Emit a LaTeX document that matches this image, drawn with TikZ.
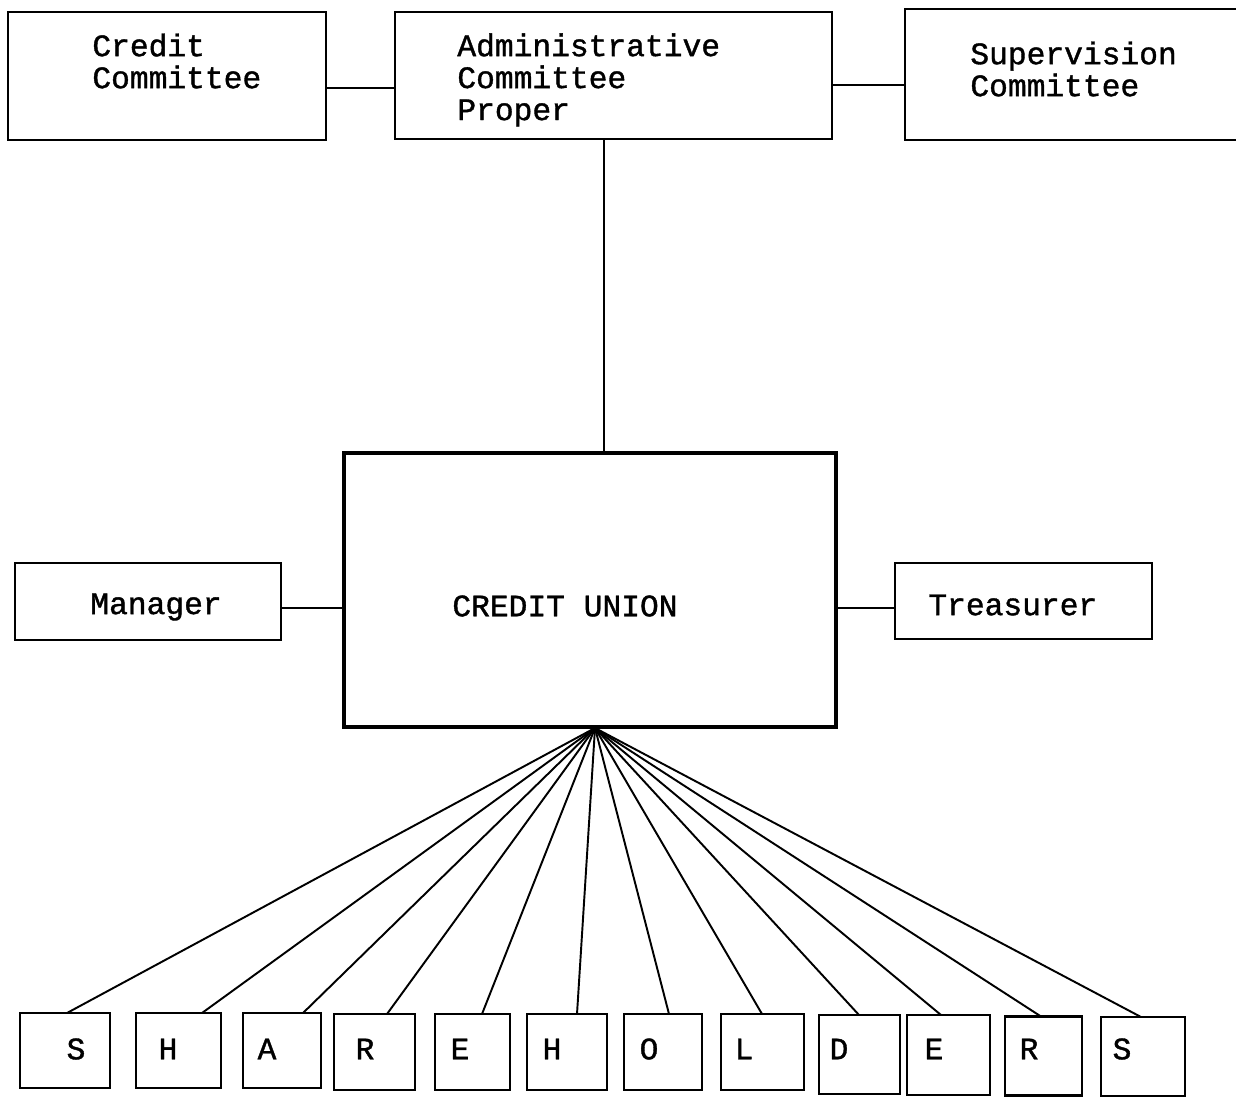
\documentclass[tikz,border=0pt]{standalone}
\usepackage{fontspec}
\setmonofont[FakeBold=1.2]{Liberation Mono}
\tikzset{
    box/.style = {draw, line width=1.5pt, inner sep=0pt, outer sep=0pt},
    bigbox/.style = {box, line width=2.6pt},
    typed/.style = {font=\ttfamily\fontsize{17.8}{18.2}\selectfont, align=left, inner sep=0pt},
    link/.style = {line width=1.1pt}
}
\begin{document}
\begin{tikzpicture}[x=0.02cm, y=-0.02cm]
        \useasboundingbox (0, 0) rectangle (1236, 1097);
        % committees
        \node [box, minimum width=318*0.02cm, minimum height=128*0.02cm] (credit) at (167, 76) {};
        \node [box, minimum width=437*0.02cm, minimum height=127*0.02cm] (admin) at (613.5, 75.5) {};
        \node [box, minimum width=345*0.02cm, minimum height=131*0.02cm] (superv) at (1077.5, 74.5) {};
        \node [typed, anchor=west] (credittext) at (92, 61) {Credit\\Committee};
        \node [typed, anchor=west] (admintext) at (457, 80) {Administrative\\Committee\\Proper};
        \node [typed, anchor=west] (supervtext) at (970, 69) {Supervision\\Committee};
        \draw [link] (credit.east |- 0, 88) -- (admin.west |- 0, 88);
        \draw [link] (admin.east |- 0, 85) -- (superv.west |- 0, 85);
        % credit union
        \node [bigbox, minimum width=492*0.02cm, minimum height=274*0.02cm] (cu) at (590, 590) {};
        \node [typed, anchor=west] (cutext) at (452, 606) {CREDIT UNION};
        \draw [link] (admin.south -| 604, 0) -- (cu.north -| 604, 0);
        \node [box, minimum width=266*0.02cm, minimum height=77*0.02cm] (manager) at (148, 601.5) {};
        \node [box, minimum width=257*0.02cm, minimum height=76*0.02cm] (treasurer) at (1023.5, 601) {};
        \node [typed, anchor=west] (managertext) at (90, 607) {Manager};
        \node [typed, anchor=west] (treasurertext) at (928, 605) {Treasurer};
        \draw [link] (manager.east |- 0, 608) -- (cu.west |- 0, 608);
        \draw [link] (treasurer.west |- 0, 608) -- (cu.east |- 0, 608);
        % shareholders
        \coordinate (hub) at (595, 728);
        \foreach \n/\t/\x/\w/\y/\h/\lx/\fx in {
            1/S/65/90/1050.5/75/76/67, 2/H/178.5/85/1050.5/75/168/202,
            3/A/282/78/1050.5/75/267/303, 4/R/374.5/81/1052/76/365/387,
            5/E/472.5/75/1052/76/460/482, 6/H/567/80/1052/76/552/577,
            7/O/663/78/1052/76/649/669, 8/L/762.5/83/1052/76/744/762,
            9/D/859.5/81/1054.5/79/839/859, 10/E/948.5/83/1055/80/934/941,
            11/R/1043.5/77/1056/79/1029/1041, 12/S/1143/84/1056.5/79/1122/1141}
        {
            \node [box, minimum width=\w*0.02cm, minimum height=\h*0.02cm] (letter\n) at (\x, \y) {};
            \node [typed] (lettertext\n) at (\lx, 1049) {\t};
            \draw [link] (hub) -- (letter\n.north -| \fx, 0);
        }
\end{tikzpicture}
\end{document}
